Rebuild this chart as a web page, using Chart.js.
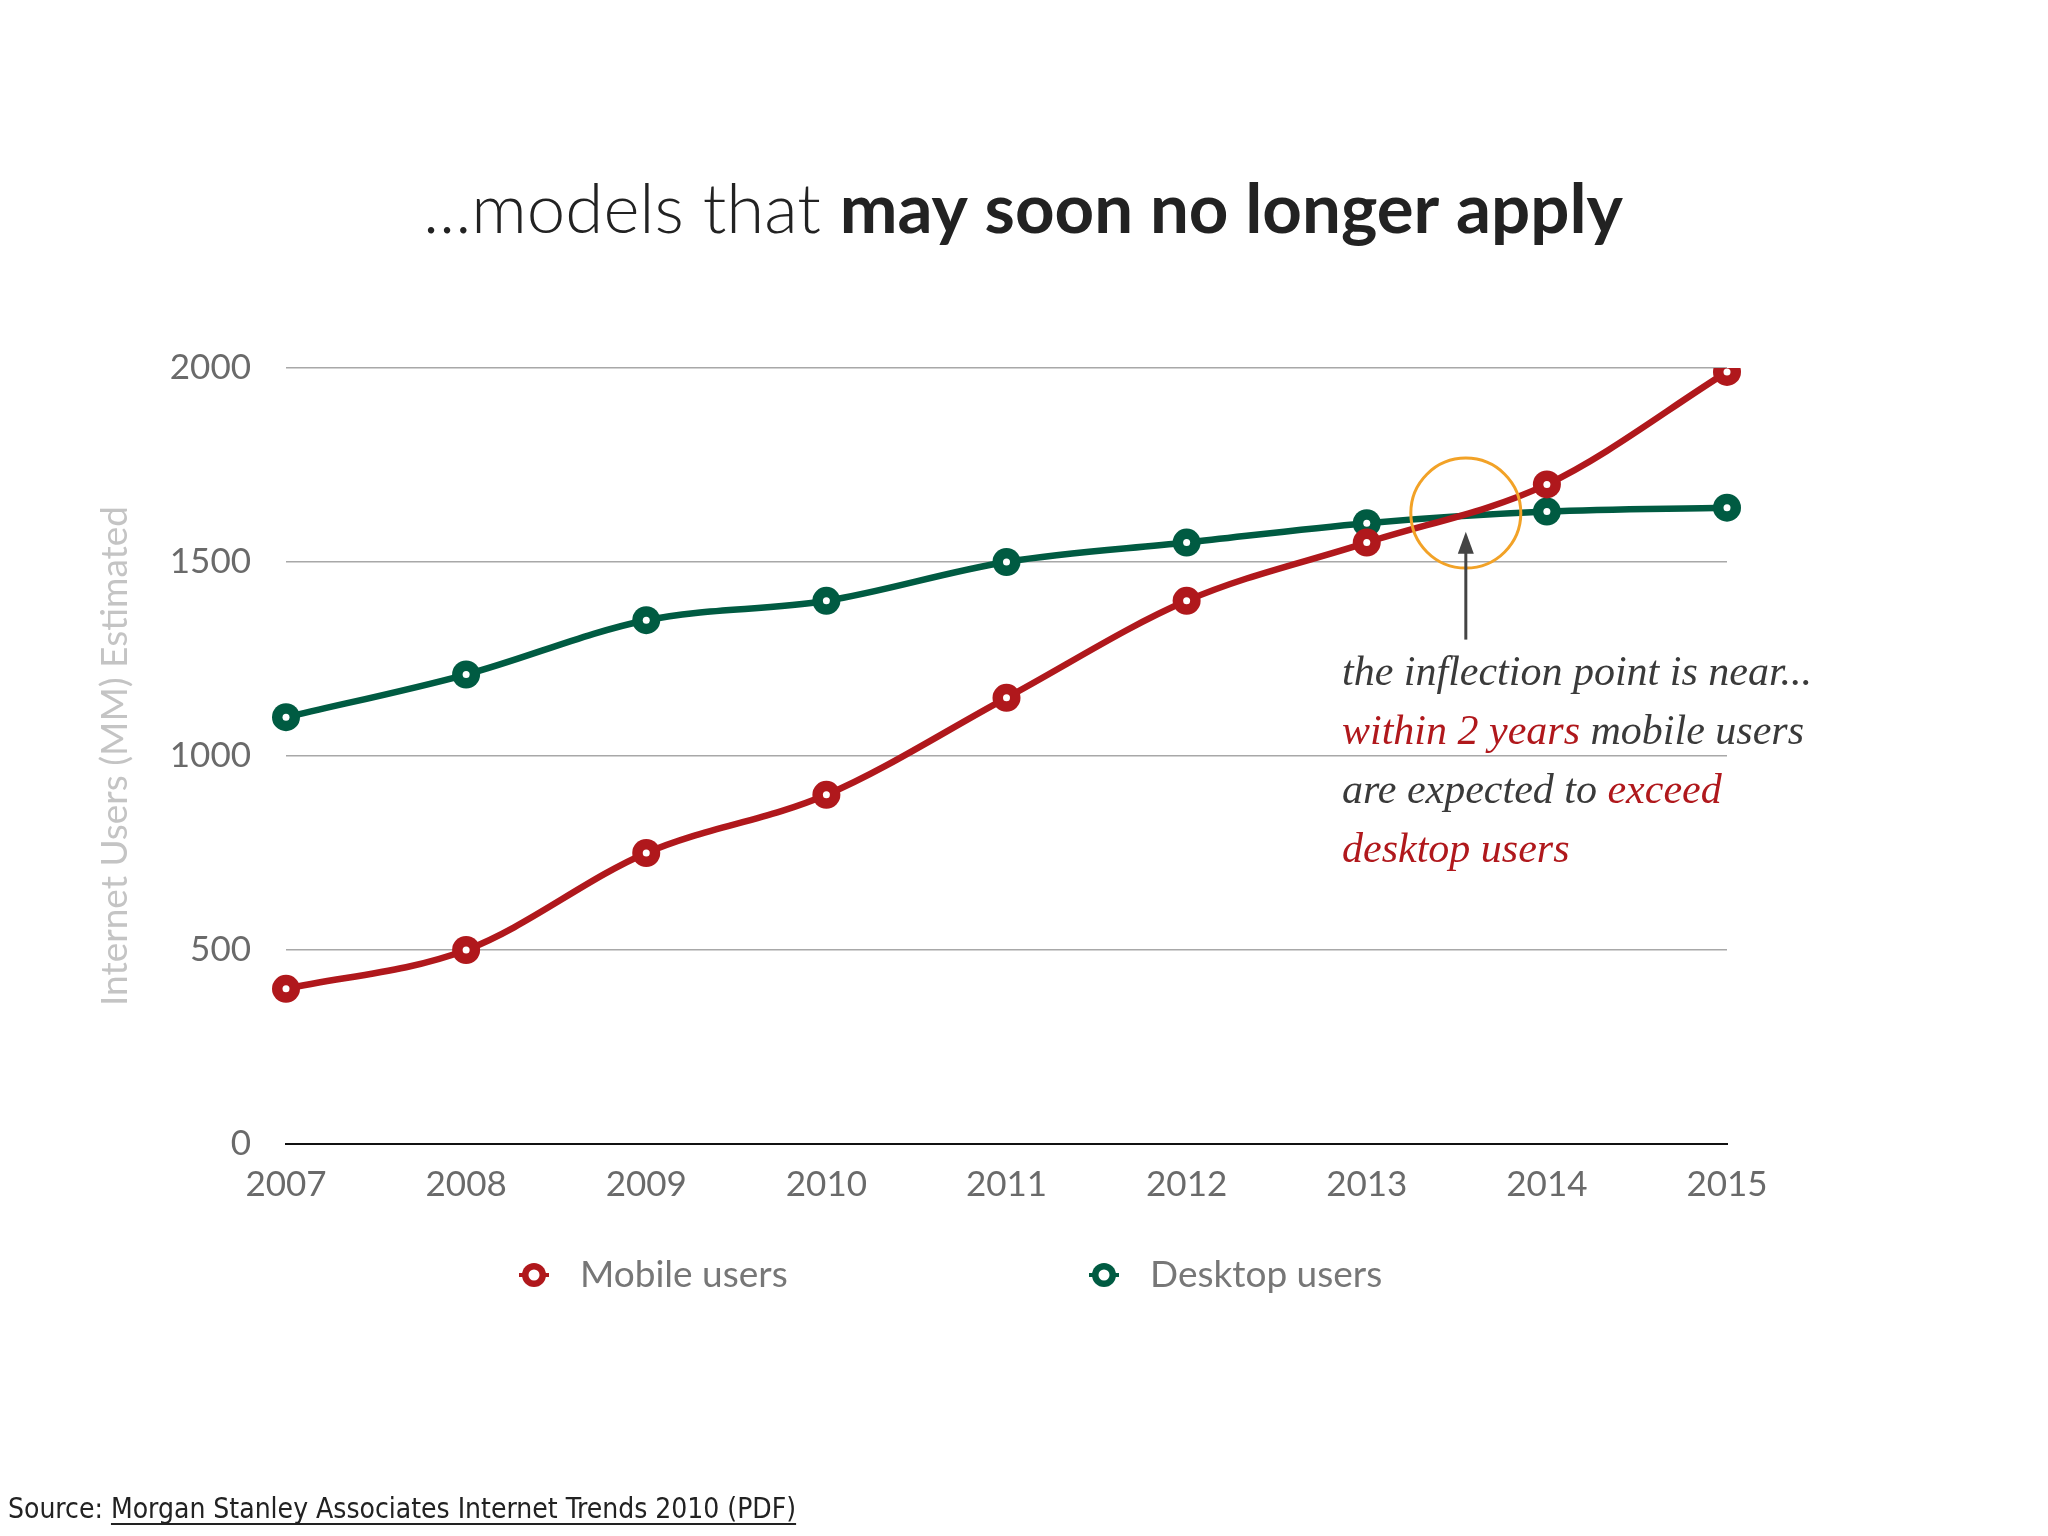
<!DOCTYPE html>
<html>
<head>
<meta charset="utf-8">
<title>Mobile vs Desktop users</title>
<script src="https://cdn.jsdelivr.net/npm/chart.js@4.4.1/dist/chart.umd.min.js"></script>
<style>
  html, body { margin: 0; padding: 0; background: #fff; }
  #wrap { position: relative; width: 2048px; height: 1536px; }
</style>
</head>
<body>
<div id="wrap"><canvas id="usersChart" width="2048" height="1536"></canvas></div>
<script>
// dati (milioni di utenti)
const anni = ['2007', '2008', '2009', '2010', '2011', '2012', '2013', '2014', '2015'];
const mobileUsers = [400, 500, 750, 900, 1150, 1400, 1550, 1700, 1990];
const desktopUsers = [1100, 1210, 1350, 1400, 1500, 1550, 1600, 1630, 1640];
const yTicks = [0, 500, 1000, 1500, 2000];
const serieNomi = ['Mobile users', 'Desktop users'];

const ROSSO = '#b0181c';
const VERDE = '#005b42';
const ARANCIO = '#f2a227';

// posizione del cerchio "inflection point" (in unita' del grafico)
const cerchioX = 6.55, cerchioY = 1626;
const frecciaDa = 1300, frecciaA = 1578;

const annotazione = [
  [['the inflection point is near...', '#3a3a3a']],
  [['within 2 years', ROSSO], [' mobile users', '#3a3a3a']],
  [['are expected to ', '#3a3a3a'], ['exceed', ROSSO]],
  [['desktop users', ROSSO]]
];

// titolo, legenda, fonte e annotazioni disegnati sul canvas
const decorazioni = {
  id: 'decorazioni',
  beforeDraw(chart) {
    const ctx = chart.ctx;
    ctx.save();
    ctx.fillStyle = '#fff';
    ctx.fillRect(0, 0, chart.width, chart.height);

    // titolo con due pesi
    const t1 = '...models that ', t2 = 'may soon no longer apply';
    ctx.textBaseline = 'alphabetic';
    ctx.font = '300 69px Lato';
    const w1 = ctx.measureText(t1).width;
    ctx.font = '700 69px Lato';
    const w2 = ctx.measureText(t2).width;
    let x = 1023 - (w1 + w2) / 2;
    ctx.fillStyle = '#222';
    ctx.font = '300 69px Lato';
    ctx.fillText(t1, x, 233);
    ctx.font = '700 69px Lato';
    ctx.fillText(t2, x + w1, 233);

    // fonte
    ctx.font = '28px "DejaVu Sans Condensed", Lato';
    ctx.fillStyle = '#222';
    const s1 = 'Source: ', s2 = 'Morgan Stanley Associates Internet Trends 2010 (PDF)';
    ctx.fillText(s1, 8, 1518);
    const ws1 = ctx.measureText(s1).width;
    ctx.fillText(s2, 8 + ws1, 1518);
    const ws2 = ctx.measureText(s2).width;
    ctx.fillRect(8 + ws1, 1523, ws2, 2);
    ctx.restore();
  },
  afterDatasetsDraw(chart) {
    const ctx = chart.ctx;
    const xs = chart.scales.x, ys = chart.scales.y;
    ctx.save();

    // puntino bianco dentro ogni marker
    chart.data.datasets.forEach((ds, i) => {
      chart.getDatasetMeta(i).data.forEach(pt => {
        ctx.beginPath();
        ctx.arc(pt.x, pt.y, 3.5, 0, Math.PI * 2);
        ctx.fillStyle = '#fff';
        ctx.fill();
      });
    });

    // cerchio arancione
    const cx = xs.getPixelForValue(cerchioX);
    const cy = ys.getPixelForValue(cerchioY);
    ctx.beginPath();
    ctx.arc(cx, cy, 55, 0, Math.PI * 2);
    ctx.strokeStyle = ARANCIO;
    ctx.lineWidth = 3;
    ctx.stroke();

    // freccia
    const yDa = ys.getPixelForValue(frecciaDa);
    const yA = ys.getPixelForValue(frecciaA);
    ctx.strokeStyle = '#444';
    ctx.fillStyle = '#444';
    ctx.lineWidth = 3;
    ctx.beginPath();
    ctx.moveTo(cx, yDa);
    ctx.lineTo(cx, yA + 18);
    ctx.stroke();
    ctx.beginPath();
    ctx.moveTo(cx, yA);
    ctx.lineTo(cx - 8, yA + 22);
    ctx.lineTo(cx + 8, yA + 22);
    ctx.closePath();
    ctx.fill();

    // testo annotazione
    ctx.font = 'italic 42px "Liberation Serif"';
    ctx.textBaseline = 'alphabetic';
    annotazione.forEach((riga, r) => {
      let tx = 1342;
      const ty = 685 + r * 59;
      riga.forEach(([testo, colore]) => {
        ctx.fillStyle = colore;
        ctx.fillText(testo, tx, ty);
        tx += ctx.measureText(testo).width;
      });
    });

    // legenda
    const legX = [534, 1104];
    const legY = 1275;
    [ROSSO, VERDE].forEach((col, i) => {
      const lx = legX[i];
      ctx.strokeStyle = col;
      ctx.lineWidth = 4;
      ctx.beginPath();
      ctx.moveTo(lx - 15, legY);
      ctx.lineTo(lx + 15, legY);
      ctx.stroke();
      ctx.beginPath();
      ctx.arc(lx, legY, 12, 0, Math.PI * 2);
      ctx.fillStyle = col;
      ctx.fill();
      ctx.beginPath();
      ctx.arc(lx, legY, 5.5, 0, Math.PI * 2);
      ctx.fillStyle = '#fff';
      ctx.fill();
      ctx.font = '37px Lato';
      ctx.fillStyle = '#777';
      ctx.textBaseline = 'middle';
      ctx.fillText(chart.data.datasets[i].label, lx + 46, legY);
    });
    ctx.restore();
  }
};

document.addEventListener('DOMContentLoaded', () => {
  const ctx = document.getElementById('usersChart').getContext('2d');
  const chart = new Chart(ctx, {
    type: 'line',
    data: {
      labels: anni,
      datasets: [
        { label: serieNomi[0], data: mobileUsers, borderColor: ROSSO, backgroundColor: ROSSO,
          pointBackgroundColor: ROSSO, pointBorderColor: ROSSO },
        { label: serieNomi[1], data: desktopUsers, borderColor: VERDE, backgroundColor: VERDE,
          pointBackgroundColor: VERDE, pointBorderColor: VERDE }
      ]
    },
    options: {
      responsive: false,
      animation: false,
      devicePixelRatio: 1,
      layout: { padding: { top: 368, left: 80, right: 321, bottom: 312 } },
      elements: {
        line: { borderWidth: 6.5, tension: 0.4, cubicInterpolationMode: 'monotone', fill: false },
        point: { radius: 14, hoverRadius: 14, borderWidth: 0 }
      },
      plugins: {
        legend: { display: false },
        title: { display: false },
        tooltip: { enabled: false }
      },
      scales: {
        x: {
          offset: false,
          grid: { display: false, drawTicks: false },
          border: { display: true, color: '#111', width: 2 },
          ticks: { color: '#6a6a6a', font: { family: 'Lato', size: 35 }, padding: 20, maxRotation: 0 },
          afterFit: s => { s.height = 80; }
        },
        y: {
          min: 0,
          max: 2000,
          afterBuildTicks: s => { s.ticks = yTicks.map(v => ({ value: v })); },
          grid: { color: '#a8a8a8', lineWidth: 1.5, drawTicks: false },
          border: { display: false },
          ticks: { color: '#6a6a6a', font: { family: 'Lato', size: 35 }, padding: 35,
                   callback: v => String(v) },
          title: { display: true, text: 'Internet Users (MM) Estimated', color: '#c4c4c4',
                   font: { family: 'Lato', size: 37 }, padding: { top: 13, bottom: 0 } },
          afterFit: s => { s.width = 206; }
        }
      }
    },
    plugins: [decorazioni]
  });
});
</script>
</body>
</html>
